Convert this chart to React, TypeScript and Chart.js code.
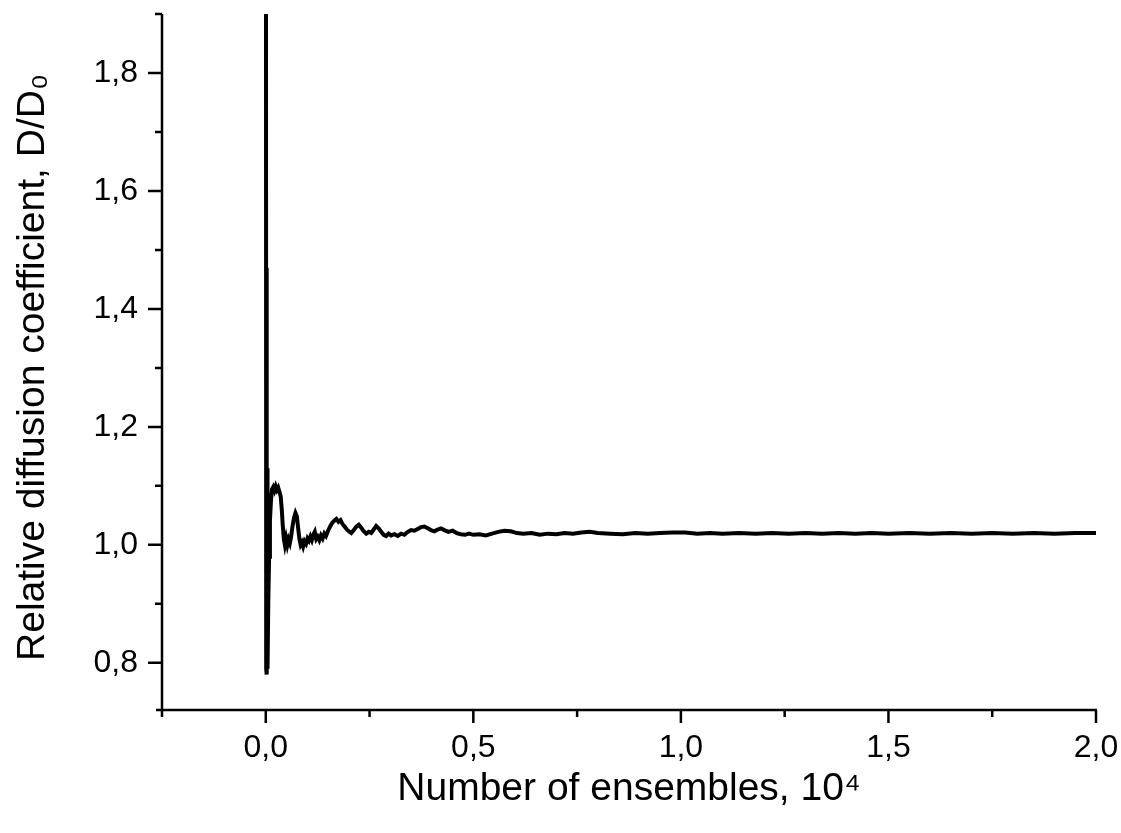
import React, { useEffect, useRef } from "react";
import { Chart, registerables } from "chart.js";

Chart.register(...registerables);

// Number of ensembles, in units of 10^4
const ENSEMBLES: number[] = [
  0.0, 0.001, 0.0018, 0.0026, 0.0034, 0.0042, 0.006, 0.008, 0.01, 0.0125,
  0.015, 0.018, 0.021, 0.024, 0.027, 0.03, 0.033, 0.036, 0.0385, 0.041,
  0.0435, 0.046, 0.049, 0.052, 0.055, 0.058, 0.061, 0.0645, 0.068, 0.0715,
  0.075, 0.078, 0.081, 0.084, 0.087, 0.09, 0.0935, 0.097, 0.1005, 0.104,
  0.1075, 0.111, 0.1145, 0.118, 0.1215, 0.125, 0.129, 0.133, 0.137, 0.141,
  0.145, 0.15, 0.155, 0.16, 0.165, 0.17, 0.175, 0.18, 0.185, 0.19,
  0.195, 0.2, 0.206, 0.212, 0.218, 0.224, 0.23, 0.236, 0.242, 0.248,
  0.254, 0.26, 0.266, 0.272, 0.278, 0.284, 0.29, 0.296, 0.302, 0.31,
  0.318, 0.326, 0.334, 0.342, 0.35, 0.358, 0.366, 0.374, 0.382, 0.39,
  0.398, 0.406, 0.414, 0.422, 0.43, 0.44, 0.45, 0.46, 0.47, 0.48,
  0.49, 0.5, 0.515, 0.53, 0.545, 0.56, 0.575, 0.59, 0.605, 0.62,
  0.64, 0.66, 0.68, 0.7, 0.72, 0.74, 0.76, 0.78, 0.8, 0.83,
  0.86, 0.89, 0.92, 0.95, 0.98, 1.01, 1.04, 1.07, 1.1, 1.14,
  1.18, 1.22, 1.26, 1.3, 1.34, 1.38, 1.42, 1.46, 1.5, 1.55,
  1.6, 1.65, 1.7, 1.75, 1.8, 1.85, 1.9, 1.95, 2.0,
];

// Relative diffusion coefficient D/D0
const DIFFUSION: number[] = [
  3.2, 0.79, 1.47, 0.78, 1.13, 0.79, 0.9, 0.98, 1.04, 1.075,
  1.094, 1.098, 1.092, 1.099, 1.093, 1.097, 1.09, 1.082, 1.06, 1.032,
  1.01, 1.0, 1.011, 1.0, 1.009, 1.003, 1.014, 1.032, 1.046, 1.054,
  1.048, 1.028, 1.01, 1.0, 1.004, 0.997, 1.006, 1.002, 1.011, 1.007,
  1.014, 1.008, 1.017, 1.022, 1.01, 1.014, 1.008, 1.016, 1.011, 1.019,
  1.015, 1.024, 1.031, 1.037, 1.041, 1.044, 1.039, 1.042, 1.035, 1.031,
  1.026, 1.023, 1.02, 1.025, 1.031, 1.034, 1.029, 1.023, 1.019, 1.022,
  1.02, 1.026, 1.032, 1.028, 1.022, 1.017, 1.015, 1.019, 1.016, 1.018,
  1.015, 1.019, 1.017, 1.022, 1.025, 1.024, 1.027, 1.03, 1.031, 1.028,
  1.025, 1.023, 1.026, 1.028, 1.025, 1.022, 1.024, 1.02, 1.018, 1.017,
  1.019, 1.017, 1.018, 1.016, 1.019, 1.022, 1.024, 1.023, 1.02, 1.019,
  1.02, 1.017, 1.019, 1.018, 1.02, 1.019, 1.021, 1.022, 1.02, 1.019,
  1.018, 1.02, 1.019, 1.02, 1.021, 1.021, 1.019, 1.02, 1.019, 1.02,
  1.019, 1.02, 1.019, 1.02, 1.019, 1.02, 1.019, 1.02, 1.019, 1.02,
  1.019, 1.02, 1.019, 1.02, 1.019, 1.02, 1.019, 1.02, 1.02,
];

const X_MIN = -0.25;
const X_MAX = 2.0;
const Y_MIN = 0.72;
const Y_MAX = 1.9;

const X_MAJOR_TICKS: number[] = [0, 0.5, 1.0, 1.5, 2.0];
const X_MINOR_TICKS: number[] = [-0.25, 0.25, 0.75, 1.25, 1.75];
const Y_MAJOR_TICKS: number[] = [0.8, 1.0, 1.2, 1.4, 1.6, 1.8];
const Y_MINOR_TICKS: number[] = [0.9, 1.1, 1.3, 1.5, 1.7, 1.9];

const X_TITLE = "Number of ensembles, 10\u2074";
const Y_TITLE = "Relative diffusion coefficient, D/D\u2080 ";

const FONT = "'Liberation Sans', Arial, Helvetica, sans-serif";
const fmt = (v: number) => v.toFixed(1).replace(".", ",");

const zeroPad = (s: any) => {
  s.paddingTop = 0;
  s.paddingBottom = 0;
  s.paddingLeft = 0;
  s.paddingRight = 0;
};

const originAxes = {
  id: "originAxes",
  afterDatasetsDraw(chart: any) {
    const { ctx, chartArea, scales } = chart;
    const xs = scales.x;
    const ys = scales.y;
    const L = chartArea.left;
    const B = chartArea.bottom;
    ctx.save();
    ctx.strokeStyle = "#000";
    ctx.lineWidth = 2.5;
    ctx.lineCap = "butt";
    ctx.beginPath();
    ctx.moveTo(L, chartArea.top);
    ctx.lineTo(L, B);
    ctx.moveTo(L - 6, B);
    ctx.lineTo(chartArea.right + 1, B);
    X_MAJOR_TICKS.forEach((v) => {
      const p = xs.getPixelForValue(v);
      ctx.moveTo(p, B);
      ctx.lineTo(p, B + 13);
    });
    X_MINOR_TICKS.forEach((v) => {
      const p = xs.getPixelForValue(v);
      ctx.moveTo(p, B);
      ctx.lineTo(p, B + 7);
    });
    Y_MAJOR_TICKS.forEach((v) => {
      const p = ys.getPixelForValue(v);
      ctx.moveTo(L, p);
      ctx.lineTo(L - 14, p);
    });
    Y_MINOR_TICKS.forEach((v) => {
      const p = ys.getPixelForValue(v);
      ctx.moveTo(L, p);
      ctx.lineTo(L - 7, p);
    });
    ctx.stroke();
    ctx.restore();
  },
};

export default function App() {
  const canvasRef = useRef<HTMLCanvasElement | null>(null);

  useEffect(() => {
    document.body.style.margin = "0";
    const canvas = canvasRef.current;
    if (!canvas) return;
    const points = ENSEMBLES.map((x, i) => ({ x, y: DIFFUSION[i] }));
    const chart = new Chart(canvas, {
      type: "scatter",
      data: {
        datasets: [
          {
            data: points,
            showLine: true,
            borderColor: "#000",
            backgroundColor: "#000",
            borderWidth: 4,
            pointRadius: 0,
            pointHoverRadius: 0,
            tension: 0,
            clip: 0,
          },
        ],
      },
      options: {
        responsive: false,
        animation: false,
        events: [],
        layout: { padding: { top: 14, right: 25, left: 0, bottom: 0 } },
        plugins: {
          legend: { display: false },
          tooltip: { enabled: false },
        },
        scales: {
          x: {
            type: "linear",
            min: X_MIN,
            max: X_MAX,
            afterFit: (s: any) => {
              s.height = 123;
              zeroPad(s);
            },
            afterBuildTicks: (s: any) => {
              s.ticks = X_MAJOR_TICKS.map((v) => ({ value: v }));
            },
            grid: { display: false, drawTicks: false },
            border: { display: false },
            ticks: {
              autoSkip: false,
              maxRotation: 0,
              padding: 19,
              color: "#000",
              font: { family: FONT, size: 32 },
              callback: (v: any) => fmt(Number(v)),
            },
            title: {
              display: true,
              text: X_TITLE,
              color: "#000",
              font: { family: FONT, size: 39 },
              padding: { top: 0, bottom: 20 },
            },
          },
          y: {
            type: "linear",
            min: Y_MIN,
            max: Y_MAX,
            afterFit: (s: any) => {
              s.width = 162;
              zeroPad(s);
            },
            afterBuildTicks: (s: any) => {
              s.ticks = Y_MAJOR_TICKS.map((v) => ({ value: v }));
            },
            grid: { display: false, drawTicks: false },
            border: { display: false },
            ticks: {
              autoSkip: false,
              padding: 24,
              color: "#000",
              font: { family: FONT, size: 32 },
              callback: (v: any) => fmt(Number(v)),
            },
            title: {
              display: true,
              text: Y_TITLE,
              color: "#000",
              font: { family: FONT, size: 39 },
              padding: { top: 10, bottom: 0 },
            },
          },
        },
      },
      plugins: [originAxes],
    });
    return () => chart.destroy();
  }, []);

  return (
    <div style={{ width: 1121, height: 833, background: "#fff" }}>
      <canvas ref={canvasRef} width={1121} height={833} style={{ display: "block" }} />
    </div>
  );
}
